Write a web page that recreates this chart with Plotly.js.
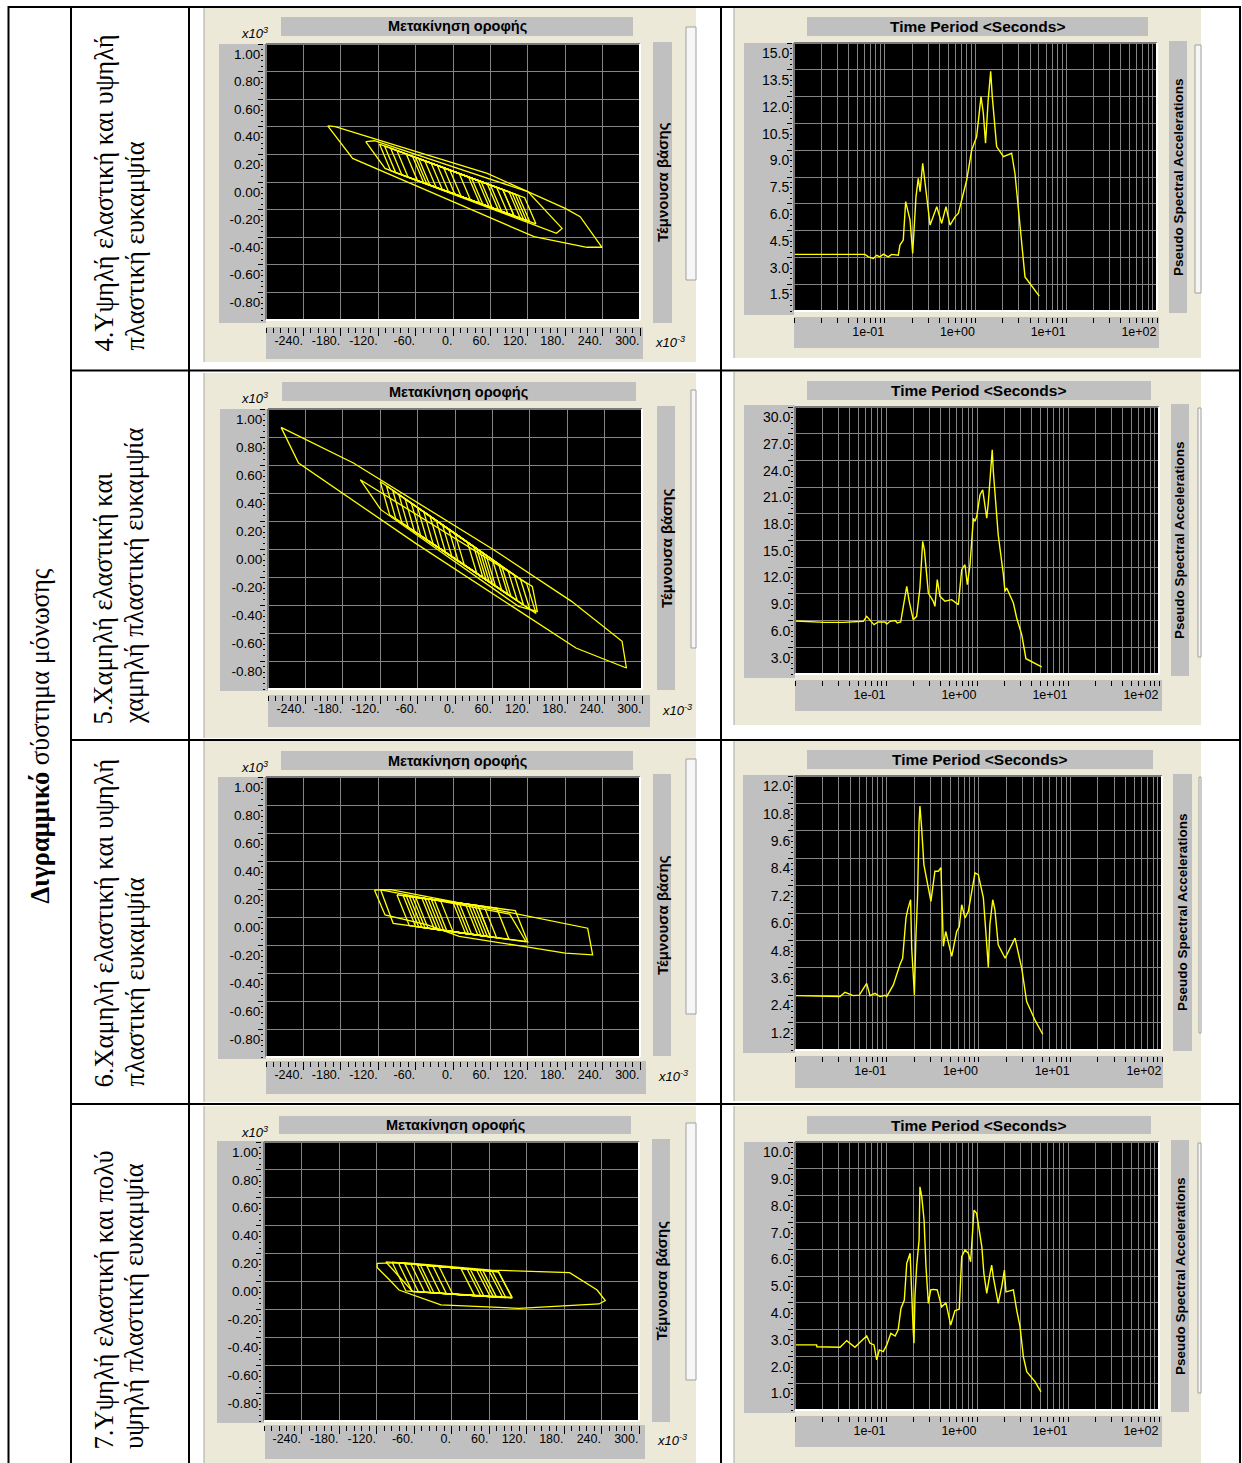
<!DOCTYPE html>
<html><head><meta charset="utf-8">
<script src="https://cdn.plot.ly/plotly-3.0.1.min.js"></script>
<style>html,body{margin:0;padding:0;background:#fff;}#chart{width:1242px;height:1463px;}</style>
</head><body><div id="chart"></div>
<script>
// ---------------- DATA ----------------
// Hysteresis loops: roof displacement (x10^-3) vs base shear (x10^3); null separates loops
const HX1 = [-201,-189,-42,55,120,180,204,239,215,130,-161,-201,null,
 -140,-126,120,175,166,-109,-140,null,
 -118,105,123,-100,-118,null,
 -100,95,113,-82,-100,null,
 -75,80,98,-57,-75,null,
 -55,60,78,-37,-55,null,
 -35,45,63,-17,-35,null,
 -15,25,43,3,-15,null,
 -90,40,58,-72,-90,null,
 -60,100,118,-42,-60,null,
 -5,70,88,13,-5,null,
 -110,115,133,-92,-110,null,
 -45,90,108,-27,-45,null,
 -25,55,73,-7,-25,null,
 -65,30,48,-47,-65,null,
 10,80,98,28,10];
const HY1 = [0.406,0.401,0.196,0.063,-0.070,-0.191,-0.251,-0.473,-0.473,-0.396,0.171,0.406,null,
 0.292,0.299,-0.070,-0.336,-0.372,0.099,0.292,null,
 0.275,-0.097,-0.287,0.081,0.275,null,
 0.245,-0.081,-0.270,0.051,0.245,null,
 0.203,-0.056,-0.246,0.010,0.203,null,
 0.170,-0.022,-0.213,-0.023,0.170,null,
 0.136,0.003,-0.188,-0.056,0.136,null,
 0.103,0.036,-0.155,-0.089,0.103,null,
 0.228,0.011,-0.180,0.035,0.228,null,
 0.178,-0.089,-0.279,-0.015,0.178,null,
 0.086,-0.039,-0.229,-0.105,0.086,null,
 0.262,-0.114,-0.303,0.068,0.262,null,
 0.153,-0.072,-0.262,-0.039,0.153,null,
 0.120,-0.014,-0.204,-0.072,0.120,null,
 0.187,0.028,-0.163,-0.006,0.187,null,
 0.061,-0.056,-0.246,-0.130,0.061];

const HX2 = [-279,-163,62,187,268,275,194,-63,-251,-279,null,
 -152,124,132,102,-119,-152,null,
 -120,105,120,-105,-120,null,
 -100,85,100,-85,-100,null,
 -80,70,85,-65,-80,null,
 -60,50,65,-45,-60,null,
 -40,35,50,-25,-40,null,
 -20,20,35,-5,-20,null,
 -90,30,45,-75,-90,null,
 -50,95,110,-35,-50,null,
 -110,115,130,-95,-110,null,
 -30,75,90,-15,-30,null,
 -70,40,55,-55,-70,null,
 0,60,75,15,0,null,
 -10,45,60,5,-10];
const HY2 = [0.869,0.614,-0.005,-0.374,-0.659,-0.85,-0.707,0.04,0.614,0.869,null,
 0.495,-0.267,-0.445,-0.41,0.281,0.495,null,
 0.482,-0.216,-0.430,0.245,0.482,null,
 0.420,-0.154,-0.370,0.185,0.420,null,
 0.358,-0.107,-0.325,0.125,0.358,null,
 0.296,-0.045,-0.265,0.065,0.296,null,
 0.234,0.002,-0.220,0.005,0.234,null,
 0.172,0.048,-0.175,-0.055,0.172,null,
 0.389,0.017,-0.205,0.155,0.389,null,
 0.265,-0.185,-0.400,0.035,0.265,null,
 0.451,-0.247,-0.460,0.215,0.451,null,
 0.203,-0.123,-0.340,-0.025,0.203,null,
 0.327,-0.014,-0.235,0.095,0.327,null,
 0.110,-0.076,-0.295,-0.115,0.110,null,
 0.141,-0.030,-0.250,-0.085,0.141];

const HX3 = [-126,-100,84,216,224,180,113,10,-41,-109,-126,null,
 -116,91,117,-96,-116,null,
 -80,40,60,-60,-80,null,
 -65,30,50,-45,-65,null,
 -50,20,40,-30,-50,null,
 -40,10,30,-20,-40,null,
 -70,0,20,-50,-70,null,
 -30,50,70,-10,-30,null,
 -90,100,120,-70,-90,null,
 -20,25,45,0,-20,null,
 -60,35,55,-40,-60,null,
 -45,5,25,-25,-45,null,
 -35,40,60,-15,-35,null,
 -75,70,90,-55,-75];
const HY3 = [0.193,0.195,0.039,-0.080,-0.270,-0.258,-0.210,-0.139,-0.056,0.015,0.193,null,
 0.193,0.021,-0.175,-0.045,0.193,null,
 0.153,0.081,-0.142,-0.068,0.153,null,
 0.144,0.087,-0.136,-0.077,0.144,null,
 0.135,0.093,-0.130,-0.086,0.135,null,
 0.129,0.099,-0.124,-0.093,0.129,null,
 0.147,0.105,-0.117,-0.074,0.147,null,
 0.123,0.075,-0.148,-0.099,0.123,null,
 0.159,0.045,-0.179,-0.062,0.159,null,
 0.117,0.090,-0.133,-0.105,0.117,null,
 0.141,0.084,-0.139,-0.080,0.141,null,
 0.132,0.102,-0.121,-0.090,0.132,null,
 0.126,0.081,-0.142,-0.096,0.126,null,
 0.150,0.063,-0.161,-0.071,0.150];

const HX4 = [-119,-76,64,189,233,246,236,159,108,-17,-84,-99,-119,-119,null,
 -105,75,97,-62,-105,null,
 -95,60,82,-73,-95,null,
 -75,45,67,-53,-75,null,
 -55,30,52,-33,-55,null,
 -40,15,37,-18,-40,null,
 -85,75,97,-63,-85,null,
 -20,50,72,2,-20,null,
 -65,40,62,-43,-65,null,
 -30,25,47,-8,-30,null,
 -50,65,87,-28,-50];
const HY4 = [0.130,0.135,0.082,0.063,-0.061,-0.137,-0.161,-0.180,-0.192,-0.168,-0.061,0.011,0.10,0.130,null,
 0.14,0.07,-0.113,-0.073,0.14,null,
 0.138,0.076,-0.115,-0.068,0.138,null,
 0.130,0.082,-0.110,-0.074,0.130,null,
 0.122,0.088,-0.106,-0.080,0.122,null,
 0.116,0.094,-0.101,-0.085,0.116,null,
 0.134,0.070,-0.119,-0.071,0.134,null,
 0.108,0.080,-0.112,-0.091,0.108,null,
 0.126,0.084,-0.109,-0.077,0.126,null,
 0.112,0.090,-0.104,-0.088,0.112,null,
 0.120,0.074,-0.116,-0.082,0.120];

// Pseudo spectral accelerations vs time period (s)
const T1 = [0.01,0.0605,0.066,0.0748,0.0815,0.0887,0.0964,0.1094,0.119,0.141,0.147,0.16,0.17,0.182,0.19,0.203,0.221,0.234,0.245,0.262,0.278,0.316,0.374,0.424,0.473,0.524,0.594,0.647,0.80,0.908,1.03,1.15,1.22,1.29,1.38,1.47,1.53,1.71,2.03,2.50,2.72,3.09,3.36,3.51,3.98,5.04];
const A1 = [3.17,3.17,3.03,2.94,3.12,3.03,3.18,3.03,3.17,3.12,3.69,3.97,6.12,5.56,5.09,3.22,6.4,7.43,6.68,8.27,7.24,4.81,5.84,4.9,5.84,4.81,5.27,5.46,7.33,9.01,9.76,12.0,11.07,9.39,11.82,13.41,12.0,9.2,8.64,8.83,7.71,4.71,2.85,1.91,1.54,0.83];
const T2 = [0.01,0.0214,0.034,0.0563,0.0614,0.0667,0.0738,0.0822,0.0975,0.102,0.111,0.126,0.133,0.145,0.152,0.169,0.180,0.199,0.217,0.236,0.253,0.264,0.292,0.331,0.345,0.366,0.392,0.445,0.527,0.624,0.679,0.738,0.783,0.838,0.912,0.951,0.993,1.08,1.155,1.22,1.28,1.33,1.41,1.47,1.51,1.58,1.71,1.95,2.03,2.12,2.51,2.73,3.1,3.45,4.16,5.14];
const A2 = [5.95,5.8,5.8,5.92,6.48,6.1,5.54,5.84,5.84,5.62,5.92,6.0,5.73,5.84,7.04,9.85,8.17,6.1,6.48,9.66,14.9,13.97,9.1,8.17,7.6,10.6,8.73,8.17,8.35,7.79,11.72,12.28,10.03,12.28,17.5,17.15,17.72,20.15,20.7,18.84,17.5,19.2,22.4,25.2,22.8,20.15,15.65,11.16,9.29,9.66,7.98,6.29,4.42,1.72,1.24,0.79];
const T3 = [0.01,0.0204,0.0309,0.0351,0.0381,0.0432,0.0502,0.0604,0.0657,0.0744,0.0844,0.0957,0.0998,0.118,0.139,0.149,0.162,0.169,0.182,0.187,0.195,0.200,0.208,0.217,0.225,0.230,0.240,0.254,0.303,0.335,0.365,0.390,0.414,0.439,0.457,0.511,0.578,0.618,0.656,0.713,0.775,0.916,0.995,1.13,1.23,1.28,1.33,1.43,1.51,1.64,1.95,2.50,2.96,3.35,4.13,5.01];
const A3 = [2.38,2.34,2.34,2.53,2.48,2.38,2.40,2.92,2.38,2.48,2.34,2.40,2.34,2.85,3.73,4.02,5.78,6.14,6.58,4.46,3.22,2.41,4.98,6.8,9.95,10.68,9.73,8.12,6.51,7.83,7.83,7.98,4.54,5.19,4.9,4.1,5.19,5.41,6.36,5.78,6.07,7.76,7.68,6.66,4.61,3.61,5.49,6.58,6.14,4.61,4.02,4.9,3.58,2.12,1.31,0.69];
const T4 = [0.01,0.0173,0.0174,0.0264,0.0313,0.037,0.0456,0.0518,0.0614,0.0667,0.0738,0.079,0.0844,0.0933,0.102,0.113,0.126,0.136,0.146,0.159,0.169,0.184,0.191,0.199,0.203,0.208,0.217,0.231,0.236,0.247,0.262,0.275,0.292,0.310,0.331,0.366,0.409,0.456,0.514,0.573,0.638,0.679,0.738,0.802,0.851,0.927,0.991,1.13,1.19,1.28,1.37,1.45,1.51,1.71,1.87,2.0,2.08,2.51,2.73,2.97,3.23,3.52,4.34,5.05];
const A4 = [2.43,2.43,2.36,2.36,2.34,2.59,2.34,2.53,2.76,2.49,2.43,1.87,2.24,2.18,2.43,2.86,2.76,2.99,3.79,4.10,5.47,5.85,4.1,2.99,2.49,4.23,5.35,6.34,8.33,7.96,7.09,5.35,3.98,4.48,4.5,4.48,3.85,4.0,3.17,3.71,3.76,5.72,5.97,5.85,5.53,7.46,7.34,6.09,5.1,4.35,4.97,5.41,4.97,3.98,4.6,5.22,4.41,4.48,3.73,3.11,1.99,1.43,1.06,0.68];

// Tick values / labels
const HX_TICKS = [-240,-180,-120,-60,0,60,120,180,240,300];
const HX_TEXT = ['-240.','-180.','-120.','-60.','0.','60.','120.','180.','240.','300.'];
const HY_TICKS = [-0.8,-0.6,-0.4,-0.2,0,0.2,0.4,0.6,0.8,1.0];
const HY_TEXT = ['-0.80','-0.60','-0.40','-0.20','0.00','0.20','0.40','0.60','0.80','1.00'];
const DECADE_T = [0.1,1,10,100];
const DECADE_TEXT = ['1e-01','1e+00','1e+01','1e+02'];
const MINOR_T = [0.01,0.02,0.03,0.04,0.05,0.06,0.07,0.08,0.09,0.2,0.3,0.4,0.5,0.6,0.7,0.8,0.9,2,3,4,5,6,7,8,9,20,30,40,50,60,70,80,90];
const SY_TICKS = [
 [1.5,3,4.5,6,7.5,9,10.5,12,13.5,15],
 [3,6,9,12,15,18,21,24,27,30],
 [1.2,2.4,3.6,4.8,6,7.2,8.4,9.6,10.8,12],
 [1,2,3,4,5,6,7,8,9,10]];
const SY_TEXT = [
 ['1.5','3.0','4.5','6.0','7.5','9.0','10.5','12.0','13.5','15.0'],
 ['3.0','6.0','9.0','12.0','15.0','18.0','21.0','24.0','27.0','30.0'],
 ['1.2','2.4','3.6','4.8','6.0','7.2','8.4','9.6','10.8','12.0'],
 ['1.0','2.0','3.0','4.0','5.0','6.0','7.0','8.0','9.0','10.0']];

const ROW_LABELS = [
 ['4.Υψηλή ελαστική και υψηλή','πλαστική ευκαμψία'],
 ['5.Χαμηλή ελαστική και','χαμηλή πλαστική ευκαμψία'],
 ['6.Χαμηλή ελαστική και υψηλή','πλαστική ευκαμψία'],
 ['7.Υψηλή ελαστική και πολύ','υψηλή πλαστική ευκαμψία']];
const SIDE_LABEL = '<b>Διγραμμικό</b> σύστημα μόνωσης';
const HYST_TITLE = 'Μετακίνηση οροφής';
const HYST_YTITLE = 'Τέμνουσα βάσης';
const SPEC_TITLE = 'Time Period &lt;Seconds&gt;';
const SPEC_YTITLE = 'Pseudo Spectral Accelerations';

const HYST = [[HX1,HY1],[HX2,HY2],[HX3,HY3],[HX4,HY4]];
const SPEC = [[T1,A1],[T2,A2],[T3,A3],[T4,A4]];

// ---------------- GEOMETRY (pixels) ----------------
const W = 1242, H = 1463;
const HYST_GEO = [
 {beige:[204,696,8,362], title:[281,633,17,36], plot:[266,640,44,320], lband:[219,266,44,323], xband:[266,643,327,359], rbar:[653,672,42,323], box:[686,696,27,280]},
 {beige:[204,696,373,738], title:[282,636,382,401], plot:[268,642,409,689], lband:[220,268,409,691], xband:[268,650,695,727], rbar:[657,675,406,690], box:[691,696,390,648]},
 {beige:[204,696,741,1102], title:[281,633,751,770], plot:[266,640,777,1057], lband:[218,266,777,1059], xband:[266,646,1061,1094], rbar:[653,671,774,1056], box:[686,696,759,1014]},
 {beige:[204,696,1106,1463], title:[279,631,1116,1134], plot:[264,639,1142,1421], lband:[217,264,1141,1423], xband:[265,645,1425,1459], rbar:[652,670,1139,1422], box:[686,696,1123,1380]}];
const SPEC_GEO = [
 {beige:[734,1201,8,358], title:[807,1148,17,36], plot:[794,1157,43,311], lband:[744,794,43,315], xband:[794,1159,317,348], rbar:[1169,1187,41,313], box:[1195,1201,45,293]},
 {beige:[734,1201,372,725], title:[807,1151,381,400], plot:[795,1159,407,674], lband:[744,795,405,678], xband:[795,1162,680,711], rbar:[1171,1189,404,676], box:[1198,1201,408,657]},
 {beige:[734,1201,741,1101], title:[807,1153,750,769], plot:[795,1162,776,1050], lband:[743,795,775,1053], xband:[795,1163,1056,1088], rbar:[1173,1192,774,1051], box:[1199,1201,777,1033]},
 {beige:[734,1201,1106,1463], title:[807,1151,1116,1134], plot:[795,1159,1142,1410], lband:[744,795,1142,1413], xband:[795,1162,1416,1447], rbar:[1171,1189,1140,1412], box:[1198,1201,1143,1393]}];
const LABEL_BOTTOM = [352,725,1088,1450];
const LABEL_LINE_X = [103,134];

// ---------------- BUILD ----------------
const px = v => v / W;
const py = v => 1 - v / H;
const shapes = [], annotations = [], traces = [];
const layout = {width:W, height:H, margin:{l:0,r:0,t:0,b:0,pad:0}, paper_bgcolor:'#ffffff',
  plot_bgcolor:'rgba(0,0,0,0)', showlegend:false, shapes, annotations};

const BEIGE = '#ECE9D8', BAND = '#C0C0C0', GRID = '#858585';
const TICKFONT = 'Liberation Sans, Arial, sans-serif';
const SERIF = 'Liberation Serif, Times New Roman, serif';

function rect(b, color, layer, lineColor) {
  shapes.push({type:'rect', xref:'paper', yref:'paper', x0:px(b[0]), x1:px(b[1]), y0:py(b[3]), y1:py(b[2]),
    fillcolor:color, line:{width:lineColor?1:0, color:lineColor||color}, layer:layer||'below'});
}
function seg(x0,y0,x1,y1,color,width,layer) {
  shapes.push({type:'line', xref:'paper', yref:'paper', x0:px(x0), y0:py(y0), x1:px(x1), y1:py(y1),
    line:{color, width}, layer:layer||'above'});
}
function ann(text, x, y, o) {
  annotations.push(Object.assign({xref:'paper', yref:'paper', x:px(x), y:py(y), text, showarrow:false,
    xanchor:'center', yanchor:'middle', borderpad:0}, o));
}

function panelFrame(g, title, ytitle, titleSize, ytitleSize) {
  rect(g.beige, BEIGE);
  seg(g.beige[0], g.beige[2], g.beige[0], g.beige[3], '#A8A8A0', 1, 'below');
  rect(g.title, BAND);
  rect(g.lband, BAND);
  rect(g.xband, BAND);
  rect(g.rbar, BAND);
  rect(g.box, '#F6F6F6', 'below', '#A0A0A0');
  rect(g.plot, '#000000');
  const p = g.plot;
  seg(p[0], p[2], p[1], p[2], '#7a7a7a', 2);
  seg(p[0], p[2], p[0], p[3], '#7a7a7a', 2);
  seg(p[1], p[2], p[1], p[3], '#ffffff', 2);
  seg(p[0], p[3], p[1], p[3], '#ffffff', 2);
  ann('<b>'+title+'</b>', (g.title[0]+g.title[1])/2, (g.title[2]+g.title[3])/2,
      {font:{family:TICKFONT, size:titleSize, color:'#000'}});
  ann('<b>'+ytitle+'</b>', (g.rbar[0]+g.rbar[1])/2, (g.rbar[2]+g.rbar[3])/2,
      {textangle:-90, font:{family:TICKFONT, size:ytitleSize, color:'#000'}});
}

for (let r = 0; r < 4; r++) {
  // ---- hysteresis subplot ----
  const ih = 2*r + 1, is = 2*r + 2;
  const g = HYST_GEO[r];
  panelFrame(g, HYST_TITLE, HYST_YTITLE, 14.5, 15);
  ann('<i>x10<sup>3</sup></i>', 254, g.title[2] + 16, {font:{family:TICKFONT, size:13, color:'#000'}});
  ann('<i>x10<sup>-3</sup></i>', g.xband[1] + 27, g.xband[2] + 15, {font:{family:TICKFONT, size:13, color:'#000'}});
  const xa = ih === 1 ? 'xaxis' : 'xaxis' + ih, ya = ih === 1 ? 'yaxis' : 'yaxis' + ih;
  layout[xa] = {domain:[px(g.plot[0]), px(g.plot[1])], range:[-300,300], anchor:'free', position:py(g.xband[2]),
    tickvals:HX_TICKS, ticktext:HX_TEXT, ticklabelposition:'outside left', tickangle:0, ticklabelstandoff:2,
    ticks:'outside', ticklen:8, tickcolor:'#000', tickwidth:1,
    minor:{ticks:'outside', ticklen:5, dtick:12, tick0:0, tickcolor:'#000', showgrid:false},
    showgrid:true, gridcolor:GRID, gridwidth:1, zeroline:false, showline:false,
    tickfont:{family:TICKFONT, size:12.5, color:'#000'}, fixedrange:true};
  layout[ya] = {domain:[py(g.plot[3]), py(g.plot[2])], range:[-1,1], anchor:'free', position:px(g.plot[0]-3),
    tickvals:HY_TICKS, ticktext:HY_TEXT, ticklabelposition:'outside bottom',
    ticks:'outside', ticklen:5, tickcolor:'#000', tickwidth:1,
    minor:{ticks:'outside', ticklen:2, dtick:0.04, tick0:0, tickcolor:'#000', showgrid:false},
    showgrid:true, gridcolor:GRID, gridwidth:1, zeroline:false, showline:false,
    tickfont:{family:TICKFONT, size:13.5, color:'#000'}, fixedrange:true};
  traces.push({type:'scatter', mode:'lines', x:HYST[r][0], y:HYST[r][1], xaxis:xa.replace('axis',''), yaxis:ya.replace('axis',''),
    line:{color:'#FFFF00', width:1.3}, connectgaps:false, hoverinfo:'skip'});

  // ---- spectrum subplot ----
  const s = SPEC_GEO[r];
  panelFrame(s, SPEC_TITLE, SPEC_YTITLE, 15.5, 13.5);
  const xs = 'xaxis' + is, ys = 'yaxis' + is;
  const top = SY_TICKS[r][SY_TICKS[r].length-1];
  layout[xs] = {type:'log', domain:[px(s.plot[0]), px(s.plot[1])], range:[-2,2], anchor:'free', position:py(s.xband[2]),
    tickvals:DECADE_T, ticktext:DECADE_TEXT, ticklabelposition:'outside left', tickangle:0, ticklabelstandoff:3,
    ticks:'outside', ticklen:5, tickcolor:'#000', tickwidth:1,
    minor:{tickmode:'array', tickvals:MINOR_T, ticks:'outside', ticklen:5, tickcolor:'#000', tickwidth:1,
      showgrid:true, gridcolor:GRID, gridwidth:1},
    showgrid:true, gridcolor:GRID, gridwidth:1, zeroline:false, showline:false,
    tickfont:{family:TICKFONT, size:12.5, color:'#000'}, fixedrange:true};
  layout[ys] = {domain:[py(s.plot[3]), py(s.plot[2])], range:[0, top], anchor:'free', position:px(s.plot[0]-2),
    tickvals:SY_TICKS[r], ticktext:SY_TEXT[r], ticklabelposition:'outside bottom',
    ticks:'outside', ticklen:5, tickcolor:'#000', tickwidth:1,
    minor:{ticks:'outside', ticklen:2, dtick:(SY_TICKS[r][0])/5, tick0:0, tickcolor:'#000', showgrid:false},
    showgrid:true, gridcolor:GRID, gridwidth:1, zeroline:false, showline:false,
    tickfont:{family:TICKFONT, size:14, color:'#000'}, fixedrange:true};
  traces.push({type:'scatter', mode:'lines', x:SPEC[r][0], y:SPEC[r][1], xaxis:'x'+is, yaxis:'y'+is,
    line:{color:'#FFFF00', width:1.4}, hoverinfo:'skip'});

  // ---- row labels ----
  for (let k = 0; k < 2; k++) {
    ann(ROW_LABELS[r][k], LABEL_LINE_X[k], LABEL_BOTTOM[r],
      {textangle:-90, yanchor:'bottom', font:{family:SERIF, size:26.5, color:'#000'}});
  }
}
ann(SIDE_LABEL, 40, 905, {textangle:-90, yanchor:'bottom', font:{family:SERIF, size:26.5, color:'#000'}});

// ---- table borders ----
const TB = '#000';
[8.5, 71, 189, 721, 1240].forEach(x => seg(x, 6, x, 1463, TB, 2));
seg(8, 7, 1241, 7, TB, 2);
[370.5, 740, 1104].forEach(y => seg(71, y, 1241, y, TB, 2));

Plotly.newPlot('chart', traces, layout, {staticPlot:true, displayModeBar:false});
</script>
</body></html>
